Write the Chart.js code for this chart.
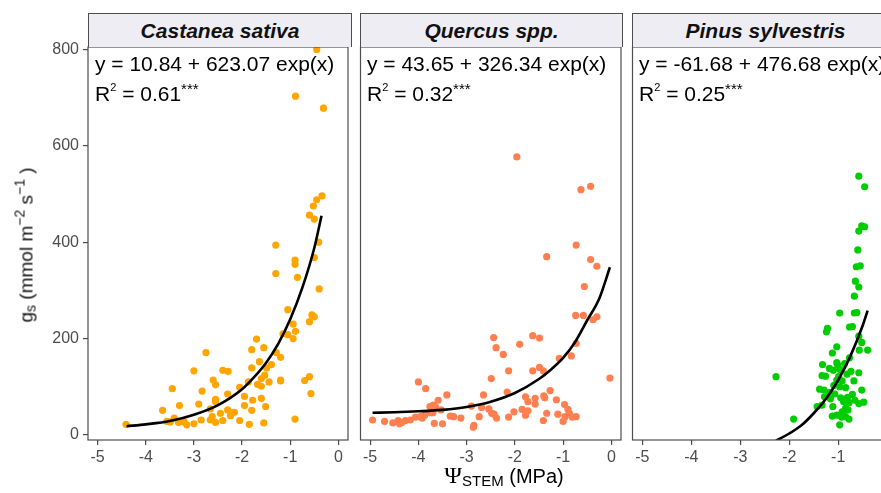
<!DOCTYPE html>
<html>
<head>
<meta charset="utf-8">
<script src="https://cdn.jsdelivr.net/npm/chart.js@4.4.1/dist/chart.umd.min.js"></script>
<style>
  body { margin: 0; background: #fff; font-family: "Liberation Sans", Arial, sans-serif; }
  #wrap { position: relative; width: 881px; height: 493px; overflow: hidden; background: #fff; }
  .panel { position: absolute; top: 0; height: 493px; }
  .strip {
    position: absolute; top: 13px; height: 33px;
    background: #ededf3; border: 1px solid #4d4d4d; border-bottom: none;
    font: italic bold 21px "Liberation Sans", Arial, sans-serif;
    text-align: center; line-height: 34px; color: #111;
  }
  .eq { position: absolute; font-size: 21px; line-height: 24px; color: #000; white-space: nowrap; }
  .eq sup { font-size: 11px; vertical-align: 10px; }
  .eq .stars { font-size: 15px; vertical-align: 7px; }
  #ytitle {
    position: absolute; left: 25px; top: 245px; font-size: 19px; font-weight: normal; white-space: nowrap; color: #111;
    transform: translate(-50%, -50%) rotate(-90deg);
  }
  #ytitle sub { font-size: 14px; vertical-align: -3px; }
  #ytitle sup { font-size: 14px; vertical-align: 8px; }
  #xtitle { position: absolute; left: 504px; top: 462px; font-size: 20px; white-space: nowrap; transform: translateX(-50%); }
  #xtitle .psi { font-family: "Liberation Serif", serif; font-size: 24px; }
  #xtitle sub { font-size: 15px; vertical-align: -3px; }
</style>
</head>
<body>
<div id="wrap">
  <div class="panel" style="left:0;width:352px"><canvas id="c1" width="352" height="493"></canvas></div>
  <div class="panel" style="left:355px;width:270px"><canvas id="c2" width="270" height="493"></canvas></div>
  <div class="panel" style="left:627px;width:274px"><canvas id="c3" width="274" height="493"></canvas></div>

  <div class="strip" style="left:88px;width:262px">Castanea sativa</div>
  <div class="strip" style="left:360px;width:261px">Quercus spp.</div>
  <div class="strip" style="left:632px;width:265px">Pinus sylvestris</div>

  <div class="eq" style="left:95px;top:52px">y = 10.84 + 623.07 exp(x)</div>
  <div class="eq" style="left:95px;top:75px">R<sup>2</sup> = 0.61<span class="stars">***</span></div>
  <div class="eq" style="left:367px;top:52px">y = 43.65 + 326.34 exp(x)</div>
  <div class="eq" style="left:367px;top:75px">R<sup>2</sup> = 0.32<span class="stars">***</span></div>
  <div class="eq" style="left:639px;top:52px">y = -61.68 + 476.68 exp(x)</div>
  <div class="eq" style="left:639px;top:75px">R<sup>2</sup> = 0.25<span class="stars">***</span></div>

  <div id="ytitle">g<sub>s</sub> (mmol m<sup>−2</sup> s<sup>−1</sup> )</div>
  <div id="xtitle"><span class="psi">Ψ</span><sub>STEM</sub> (MPa)</div>
</div>

<script>
const xTicks = [-5, -4, -3, -2, -1, 0];
const yTicks = [0, 200, 400, 600, 800];

// Castanea sativa
const castX = [-0.34, -0.45, -0.52, -0.60, -0.50, -1.30, -0.41, -0.90, -0.90, -0.50, -1.30, -0.85, -0.40, -1.05, -0.55, -0.50,
  -0.45, -0.89, -0.31, -0.60, -0.94, -0.89, -1.15, -1.05, -0.94, -1.70, -1.80, -1.55, -2.75, -1.29, -1.20, -1.64, -1.39,
  -1.80, -1.49, -3.00, -2.40, -2.29, -1.53, -1.60, -2.60, -1.20, -1.20, -1.87, -1.44, -0.70, -0.60, -2.55, -1.68, -1.60,
  -2.05, -3.45, -2.83, -0.57, -2.30, -1.95, -2.55, -2.55, -1.60, -1.78, -2.90, -3.30, -1.95, -1.51, -2.66, -3.65, -2.30,
  -2.23, -2.16, -1.80, -2.45, -2.24, -2.62, -0.90, -3.41, -3.56, -3.49, -2.85, -2.66, -2.40, -2.05, -2.55, -3.32, -3.20,
  -3.00, -3.15, -1.55, -1.85, -4.41];
const castY = [496, 488, 475, 456, 448, 394, 400, 363, 354, 368, 335, 327, 303, 260, 249, 245,
  800, 703, 678, 235, 230, 215, 210, 208, 200, 199, 177, 181, 171, 171, 161, 152, 146,
  139, 139, 133, 134, 132, 124, 117, 114, 114, 112, 110, 110, 113, 121, 104, 105, 101,
  99, 96, 91, 86, 85, 80, 74, 69, 76, 72, 64, 61, 61, 59, 54, 51, 52,
  46, 47, 51, 45, 40, 38, 33, 35, 28, 27, 31, 31, 30, 30, 26, 26, 27,
  23, 21, 25, 22, 22];
const castFitX = [-4.4, -4.0, -3.5, -3.0, -2.5, -2.0, -1.75, -1.5, -1.25, -1.0, -0.75, -0.5, -0.35];
const castFitY = [18, 22, 29, 42, 62, 95, 120, 150, 189, 240, 305, 388, 455];

// Quercus spp.
const querX = [-1.96, -0.63, -0.43, -0.73, -1.34, -0.43, -0.30, -0.56, -0.74, -0.58, -0.30, -0.38, -2.44, -1.63, -1.49,
  -1.90, -2.39, -0.73, -2.24, -0.83, -1.08, -2.13, -1.63, -1.49, -1.41, -2.49, -0.03, -4.00, -3.85, -2.16, -1.27, -3.41,
  -2.65, -1.40, -1.38, -1.78, -1.58, -3.59, -1.14, -1.73, -1.58, -0.97, -3.69, -3.76, -3.65, -2.90, -2.69, -2.54, -1.85,
  -1.73, -0.90, -3.53, -2.02, -3.75, -3.70, -2.48, -2.43, -1.34, -1.11, -1.78, -0.87, -3.87, -3.96, -3.34, -3.27, -3.12,
  -2.74, -2.38, -2.13, -0.73, -0.81, -0.96, -4.06, -4.17, -4.27, -4.95, -4.70, -4.53, -4.42, -4.39, -4.34, -3.67, -3.50,
  -2.85, -2.86, -1.41, -1.00, -3.92];
const querY = [577, 509, 516, 394, 370, 364, 350, 308, 248, 248, 245, 239, 202, 206, 201,
  188, 181, 190, 167, 164, 159, 133, 133, 140, 133, 117, 118, 110, 96, 89, 92, 83,
  83, 81, 77, 79, 76, 72, 73, 69, 64, 63, 62, 59, 59, 60, 57, 54, 53,
  50, 53, 52, 48, 46, 46, 45, 43, 45, 43, 41, 45, 41, 38, 39, 38, 35,
  38, 35, 37, 38, 37, 38, 37, 31, 30, 31, 28, 25, 30, 23, 26, 24, 23,
  20, 16, 30, 28, 35];
const querFitX = [-4.95, -4.5, -4.0, -3.5, -3.0, -2.5, -2.0, -1.5, -1.25, -1.0, -0.75, -0.5, -0.25, -0.03];
const querFitY = [46, 47, 49, 52, 58, 69, 87, 116, 136, 160, 193, 238, 283, 348];

// Pinus sylvestris
const pinX = [-0.58, -0.46, -0.52, -0.46, -0.58, -0.60, -0.63, -0.55, -0.65, -0.58, -0.67, -0.97, -0.67, -0.62, -1.22,
  -0.77, -0.71, -1.24, -0.58, -0.52, -1.03, -0.57, -0.40, -1.12, -0.77, -0.87, -1.03, -1.01, -1.32, -1.18, -1.10, -0.97,
  -0.74, -0.58, -0.82, -2.27, -1.33, -1.26, -0.99, -1.03, -0.92, -0.68, -1.09, -0.97, -0.85, -1.38, -1.29, -0.52, -1.18,
  -1.07, -0.71, -1.28, -1.16, -0.95, -0.81, -0.66, -0.48, -0.58, -0.89, -0.78, -1.43, -1.33, -1.11, -0.85, -0.80, -0.92,
  -1.12, -1.03, -0.93, -0.85, -0.78, -1.91, -0.97];
const pinY = [537, 515, 434, 432, 423, 384, 349, 351, 319, 307, 288, 253, 253, 254, 221,
  224, 225, 214, 205, 192, 183, 176, 176, 170, 160, 148, 150, 145, 146, 138, 134, 136,
  132, 129, 126, 121, 123, 122, 121, 114, 112, 112, 103, 100, 98, 95, 93, 93, 88,
  85, 84, 79, 75, 77, 78, 72, 68, 65, 69, 67, 59, 62, 59, 55, 52, 48,
  39, 41, 37, 38, 33, 33, 21];
const pinFitX = [-2.27, -2.0, -1.75, -1.5, -1.25, -1.0, -0.75, -0.5, -0.4];
const pinFitY = [-12, 3, 20, 45, 75, 114, 164, 227, 258];

function toPoints(xs, ys) {
  return xs.map((x, i) => ({ x: x, y: ys[i] }));
}

const panelBorder = {
  id: "panelBorder",
  afterDraw(chart) {
    const a = chart.chartArea;
    const ctx = chart.ctx;
    ctx.save();
    ctx.strokeStyle = "#4d4d4d";
    ctx.lineWidth = 1.2;
    ctx.strokeRect(a.left, a.top, a.right - a.left, a.bottom - a.top);
    ctx.restore();
  },
};

const tickFont = { family: "'Liberation Sans', Arial, sans-serif", size: 16 };

function makePanel(id, xs, ys, fitX, fitY, color, showY, padLeft, padRight) {
  const ctx = document.getElementById(id).getContext("2d");
  return new Chart(ctx, {
    type: "scatter",
    data: {
      datasets: [
        {
          data: toPoints(fitX, fitY),
          showLine: true,
          borderColor: "#000",
          borderWidth: 2.6,
          pointRadius: 0,
          cubicInterpolationMode: "monotone",
        },
        {
          data: toPoints(xs, ys),
          backgroundColor: color,
          borderWidth: 0,
          pointRadius: 3.6,
        },
      ],
    },
    plugins: [panelBorder],
    options: {
      responsive: false,
      animation: false,
      events: [],
      layout: { padding: { left: padLeft, right: padRight, top: 47, bottom: 0 } },
      plugins: { legend: { display: false }, tooltip: { enabled: false } },
      scales: {
        x: {
          type: "linear",
          min: -5.2,
          max: 0.2,
          afterBuildTicks: (s) => { s.ticks = xTicks.map((v) => ({ value: v })); },
          afterFit: (s) => { s.height = 53; },
          grid: { drawOnChartArea: false, drawTicks: true, tickLength: 5, color: "#4d4d4d", lineWidth: 1.2 },
          border: { display: false },
          ticks: { color: "#4d4d4d", font: tickFont, padding: 3, maxRotation: 0 },
        },
        y: {
          type: "linear",
          display: showY,
          min: -10.5,
          max: 805,
          afterBuildTicks: (s) => { s.ticks = yTicks.map((v) => ({ value: v })); },
          afterFit: (s) => { s.width = showY ? 88 : 0; },
          grid: { drawOnChartArea: false, drawTicks: true, tickLength: 5, color: "#4d4d4d", lineWidth: 1.2 },
          border: { display: false },
          ticks: { color: "#4d4d4d", font: tickFont, padding: 4 },
        },
      },
    },
  });
}

makePanel("c1", castX, castY, castFitX, castFitY, "#FFA500", true, 0, 1.5);
makePanel("c2", querX, querY, querFitX, querFitY, "#FF7F50", false, 5.5, 3.5);
makePanel("c3", pinX, pinY, pinFitX, pinFitY, "#00CD00", false, 5.5, 3);
</script>
</body>
</html>
